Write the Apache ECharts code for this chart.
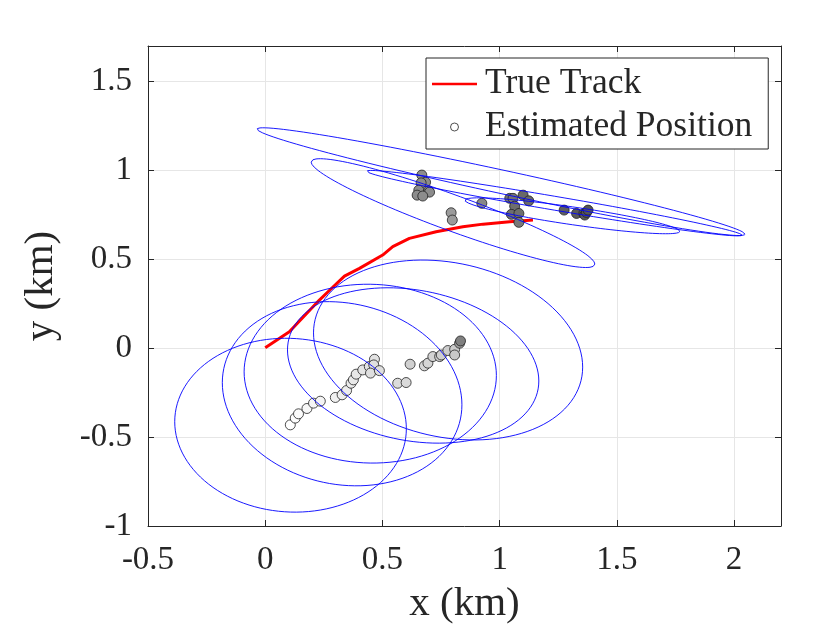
<!DOCTYPE html>
<html>
<head>
<meta charset="utf-8">
<script src="https://cdn.jsdelivr.net/npm/echarts@6/dist/echarts.min.js"></script>
<style>
html,body{margin:0;padding:0;background:#fff;}
#c{width:831px;height:637px;}
</style>
</head>
<body>
<div id="c"></div>
<script>
// ---- data ----
var xMin = -0.5, xMax = 2.2, yMin = -1, yMax = 1.7, tickStep = 0.5;

var trackX = [0, 0.103, 0.231, 0.288, 0.338, 0.402, 0.501, 0.544, 0.615, 0.729, 0.843, 0.929, 1.043, 1.142];
var trackY = [0.003, 0.093, 0.271, 0.343, 0.406, 0.449, 0.524, 0.571, 0.618, 0.655, 0.683, 0.698, 0.711, 0.721];

var estX = [0.107, 0.128, 0.142, 0.178, 0.206, 0.235, 0.299, 0.328, 0.347, 0.366, 0.376, 0.388, 0.416, 0.444, 0.466, 0.463, 0.449, 0.487, 0.565, 0.601, 0.618, 0.679, 0.694, 0.715, 0.744, 0.751, 0.779, 0.808, 0.808, 0.829, 0.833,
            0.668, 0.684, 0.665, 0.655, 0.697, 0.701, 0.648, 0.672, 0.793, 0.798, 0.924, 1.043, 1.057, 1.100, 1.124, 1.064, 1.050, 1.082, 1.082, 1.275, 1.328, 1.359, 1.363, 1.370, 1.377];
var estY = [-0.431, -0.393, -0.369, -0.339, -0.309, -0.298, -0.277, -0.262, -0.238, -0.197, -0.178, -0.146, -0.122, -0.103, -0.062, -0.094, -0.140, -0.126, -0.197, -0.193, -0.090, -0.099, -0.084, -0.047, -0.047, -0.038, -0.013, -0.006, -0.038, 0.028, 0.041,
            0.974, 0.934, 0.930, 0.889, 0.885, 0.878, 0.861, 0.856, 0.762, 0.721, 0.815, 0.843, 0.843, 0.861, 0.829, 0.799, 0.753, 0.758, 0.708, 0.777, 0.758, 0.758, 0.749, 0.764, 0.777];
var estShade = [255, 253, 251, 248, 246, 244, 241, 239, 237, 235, 233, 231, 229, 227, 225, 224, 223, 222, 220, 218, 208, 214, 213, 211, 209, 207, 205, 203, 201, 160, 128,
            140, 140, 140, 140, 140, 140, 140, 140, 155, 155, 135, 115, 115, 105, 105, 110, 110, 110, 120, 95, 90, 90, 88, 85, 85];

// error ellipses: centre, half extents along x / y, correlation
var ellCx  = [0.108, 0.328, 0.448, 0.631, 0.780, 1.006, 0.801, 1.233, 1.310];
var ellCy  = [-0.433, -0.256, -0.143, -0.097, -0.010, 0.937, 0.760, 0.816, 0.745];
var ellW   = [0.494, 0.511, 0.538, 0.536, 0.574, 1.041, 0.605, 0.801, 0.459];
var ellH   = [0.489, 0.518, 0.503, 0.437, 0.506, 0.303, 0.306, 0.184, 0.101];
var ellRho = [-0.04, -0.12, -0.02, -0.20, -0.19, -0.975, -0.937, -0.977, -0.867];

// ---- build series ----
var font = "'Liberation Serif','Times New Roman',serif";
var textColor = '#262626';
var series = [];

series.push({
  name: 'True Track', type: 'line', showSymbol: false, silent: true,
  data: trackX.map(function (x, i) { return [x, trackY[i]]; }),
  lineStyle: { color: '#ff0000', width: 3 }, itemStyle: { color: '#ff0000' }, z: 2
});

series.push({
  name: 'Estimated Position', type: 'scatter', symbol: 'circle', symbolSize: 10, silent: true,
  data: estX.map(function (x, i) {
    var g = estShade[i];
    return { value: [x, estY[i]], itemStyle: { color: 'rgb(' + g + ',' + g + ',' + g + ')' } };
  }),
  itemStyle: { borderColor: '#222', borderWidth: 0.8, opacity: 1 }, z: 3
});

var N = 120;
for (var k = 0; k < ellCx.length; k++) {
  var pts = [];
  var s = Math.sqrt(1 - ellRho[k] * ellRho[k]);
  for (var j = 0; j <= N; j++) {
    var t = 2 * Math.PI * j / N;
    pts.push([ellCx[k] + ellW[k] * Math.cos(t),
              ellCy[k] + ellH[k] * (ellRho[k] * Math.cos(t) + s * Math.sin(t))]);
  }
  series.push({
    name: 'ellipse' + k, type: 'line', showSymbol: false, silent: true, data: pts,
    lineStyle: { color: '#0000ff', width: 0.9 }, z: 4
  });
}

var chart = echarts.init(document.getElementById('c'), null, { renderer: 'canvas' });
var axisLine = { show: true, onZero: false, lineStyle: { color: textColor, width: 1 } };
var tick = { show: true, inside: true, length: 6, lineStyle: { color: textColor, width: 1 } };

chart.setOption({
  animation: false,
  backgroundColor: '#ffffff',
  textStyle: { fontFamily: font },
  grid: { left: 148, right: 50, top: 46, bottom: 111, containLabel: false },
  legend: {
    left: 426, top: 58, orient: 'vertical',
    backgroundColor: '#ffffff', borderColor: textColor, borderWidth: 1,
    padding: [8, 16, 4, 6], itemGap: 7, itemWidth: 45, itemHeight: 8,
    textStyle: { fontFamily: font, fontSize: 35.5, color: textColor, lineHeight: 36, padding: [0, 0, 0, 3] },
    data: [
      { name: 'True Track', icon: 'path://M0,0 L18,0 L18,1 L0,1 Z', itemStyle: { color: '#ff0000' } },
      { name: 'Estimated Position', icon: 'circle', itemStyle: { color: '#ffffff', borderColor: '#222', borderWidth: 0.8 } }
    ],
    selectedMode: false
  },
  xAxis: [{
    type: 'value', min: xMin, max: xMax, interval: tickStep, position: 'bottom',
    name: 'x (km)', nameLocation: 'middle', nameGap: 58,
    nameTextStyle: { fontFamily: font, fontSize: 41, color: textColor },
    axisLine: axisLine, axisTick: tick,
    axisLabel: { fontFamily: font, fontSize: 33, color: textColor, margin: 18, showMaxLabel: false },
    splitLine: { show: true, lineStyle: { color: '#e6e6e6', width: 1 } }
  }, {
    type: 'value', min: xMin, max: xMax, interval: tickStep, position: 'top',
    axisLine: axisLine, axisTick: tick, axisLabel: { show: false }, splitLine: { show: false }
  }],
  yAxis: [{
    type: 'value', min: yMin, max: yMax, interval: tickStep, position: 'left',
    name: 'y (km)', nameLocation: 'middle', nameGap: 86,
    nameTextStyle: { fontFamily: font, fontSize: 41, color: textColor },
    axisLine: axisLine, axisTick: tick,
    axisLabel: { fontFamily: font, fontSize: 33, color: textColor, margin: 16, showMaxLabel: false },
    splitLine: { show: true, lineStyle: { color: '#e6e6e6', width: 1 } }
  }, {
    type: 'value', min: yMin, max: yMax, interval: tickStep, position: 'right',
    axisLine: axisLine, axisTick: tick, axisLabel: { show: false }, splitLine: { show: false }
  }],
  series: series
});
</script>
</body>
</html>
